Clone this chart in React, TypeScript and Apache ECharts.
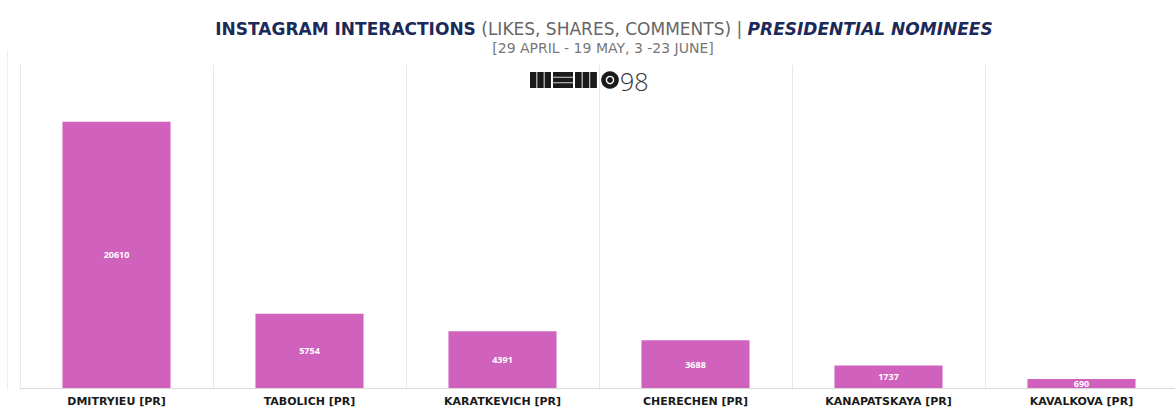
import React, { useEffect, useRef } from "react";
import * as echarts from "echarts";

const categories = [
  "DMITRYIEU [PR]",
  "TABOLICH [PR]",
  "KARATKEVICH [PR]",
  "CHERECHEN [PR]",
  "KANAPATSKAYA [PR]",
  "KAVALKOVA [PR]",
];
const interactions = [20610, 5754, 4391, 3688, 1737, 690];

const titleBold = "INSTAGRAM INTERACTIONS";
const titleMid = " (LIKES, SHARES, COMMENTS) | ";
const titleItalic = "PRESIDENTIAL NOMINEES";
const subtitle = "[29 APRIL - 19 MAY, 3 -23 JUNE]";
const logoNumber = "98";

export default function App() {
  const ref = useRef<HTMLDivElement>(null);
  useEffect(() => {
    if (!ref.current) return;
    const chart = echarts.init(ref.current, null, { renderer: "svg" });
    const logoX = 530;
    const logoY = 72;
    const logoParts: any[] = [];
    for (let i = 0; i < 3; i++) {
      logoParts.push({ type: "rect", shape: { x: logoX + i * 7.3, y: logoY, width: 6.4, height: 16 }, style: { fill: "#1a1a1a" } });
    }
    for (let i = 0; i < 3; i++) {
      logoParts.push({ type: "rect", shape: { x: logoX + 23, y: logoY + i * 5.6, width: 20, height: 4.8 }, style: { fill: "#1a1a1a" } });
    }
    for (let i = 0; i < 3; i++) {
      logoParts.push({ type: "rect", shape: { x: logoX + 45 + i * 7.6, y: logoY, width: 6.7, height: 16 }, style: { fill: "#1a1a1a" } });
    }
    logoParts.push({ type: "circle", shape: { cx: logoX + 80, cy: logoY + 8, r: 8.8 }, style: { fill: "#1a1a1a" } });
    logoParts.push({ type: "circle", shape: { cx: logoX + 80, cy: logoY + 8, r: 3.6 }, style: { fill: "none", stroke: "#ffffff", lineWidth: 1.4 } });
    logoParts.push({
      type: "text",
      x: logoX + 90,
      y: logoY + 8.5,
      style: { text: logoNumber, fill: "#333333", font: "300 25px 'Open Sans'", verticalAlign: "middle", align: "left" },
    });

    const tf = "DejaVu Sans";
    chart.setOption({
      animation: false,
      backgroundColor: "#ffffff",
      title: [
        {
          text: `{b|${titleBold}}{m|${titleMid}}{i|${titleItalic}}`,
          left: 599,
          textAlign: "center",
          top: 15,
          textStyle: {
            rich: {
              b: { fontFamily: tf, fontWeight: "bold", fontSize: 17, color: "#1c2a5a" },
              m: { fontFamily: tf, fontWeight: "normal", fontSize: 17, color: "#666666" },
              i: { fontFamily: tf, fontWeight: "bold", fontStyle: "italic", fontSize: 17, color: "#1c2a5a" },
            },
          },
        },
        {
          text: subtitle,
          left: 598,
          textAlign: "center",
          top: 36,
          textStyle: { fontFamily: tf, fontWeight: "normal", fontSize: 14, color: "#777777" },
        },
      ],
      grid: { left: 20, right: 2, top: 65, bottom: 20, containLabel: false },
      xAxis: {
        type: "category",
        data: categories,
        boundaryGap: true,
        axisLine: { show: true, lineStyle: { color: "#d9d9d9", width: 1 } },
        axisTick: { show: false },
        splitLine: { show: true, lineStyle: { color: "#e8e8e8", width: 1 } },
        axisLabel: {
          interval: 0,
          margin: 8,
          fontFamily: tf,
          fontWeight: "bold",
          fontSize: 11,
          color: "#1a1a1a",
        },
      },
      yAxis: {
        type: "value",
        min: 0,
        max: 25000,
        show: false,
        splitLine: { show: false },
      },
      series: [
        {
          type: "bar",
          data: interactions,
          barWidth: "56%",
          itemStyle: { color: "#d062bd" },
          label: {
            show: true,
            position: "inside",
            color: "#ffffff",
            fontFamily: "Open Sans",
            fontWeight: "bold",
            fontSize: 9,
          },
        },
      ],
      graphic: [
        { type: "line", shape: { x1: 7.5, y1: 50, x2: 7.5, y2: 390 }, style: { stroke: "#eeeeee", lineWidth: 1 } },
        { type: "group", z: 100, children: logoParts },
      ],
    });
    return () => chart.dispose();
  }, []);
  return (
    <div style={{ position: "absolute", left: 0, top: 0, width: 1175, height: 408, overflow: "hidden" }}>
      <div ref={ref} style={{ position: "absolute", left: 0, top: 0, width: 1180, height: 408 }} />
    </div>
  );
}
